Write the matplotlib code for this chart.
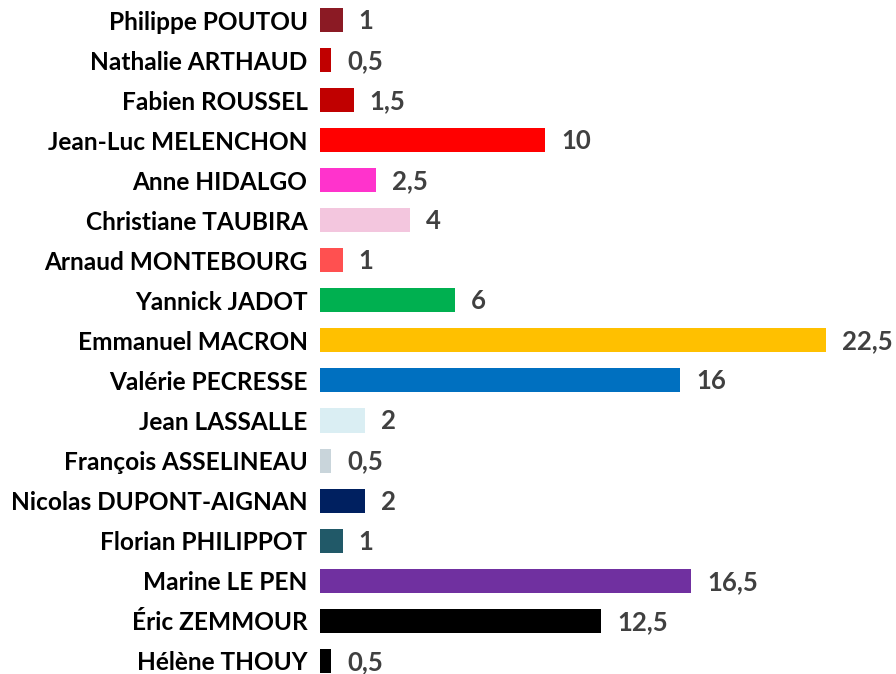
import matplotlib
matplotlib.use("Agg")
import matplotlib.pyplot as plt

candidates = ["Philippe POUTOU", "Nathalie ARTHAUD", "Fabien ROUSSEL", "Jean-Luc MELENCHON",
              "Anne HIDALGO", "Christiane TAUBIRA", "Arnaud MONTEBOURG", "Yannick JADOT",
              "Emmanuel MACRON", "Valérie PECRESSE", "Jean LASSALLE", "François ASSELINEAU",
              "Nicolas DUPONT-AIGNAN", "Florian PHILIPPOT", "Marine LE PEN", "Éric ZEMMOUR",
              "Hélène THOUY"]
values = [1, 0.5, 1.5, 10, 2.5, 4, 1, 6, 22.5, 16, 2, 0.5, 2, 1, 16.5, 12.5, 0.5]
colors = ["#8B1A24", "#C00000", "#C00000", "#FF0000", "#FF33CC", "#F3C6DE", "#FF5050",
          "#00B050", "#FFC000", "#0070C0", "#DAEEF3", "#C9D5DB", "#002060", "#215968",
          "#7030A0", "#000000", "#000000"]

fig = plt.figure(figsize=(8.96, 6.74), dpi=100)
ax = fig.add_axes([320/896, 0, 550/896, 1])
ypos = list(range(len(values)))
ax.barh(ypos, values, height=0.6, color=colors)
ax.set_xlim(0, 550/22.5)
ax.set_ylim(16.33, -0.5)
ax.set_yticks(ypos)
ax.set_yticklabels(candidates, fontsize=17.6, fontweight="bold", family="Lato")
ax.tick_params(axis="y", length=0, pad=9)
ax.set_xticks([])
for s in ax.spines.values():
    s.set_visible(False)
for y, v in zip(ypos, values):
    lab = f"{v:g}".replace(".", ",")
    ax.annotate(lab, (v, y), xytext=(16, -1), textcoords="offset pixels",
                va="center", ha="left", fontsize=18.5, fontweight="bold", color="#404040",
                family="Lato")
fig.savefig("out.png", dpi=100)
